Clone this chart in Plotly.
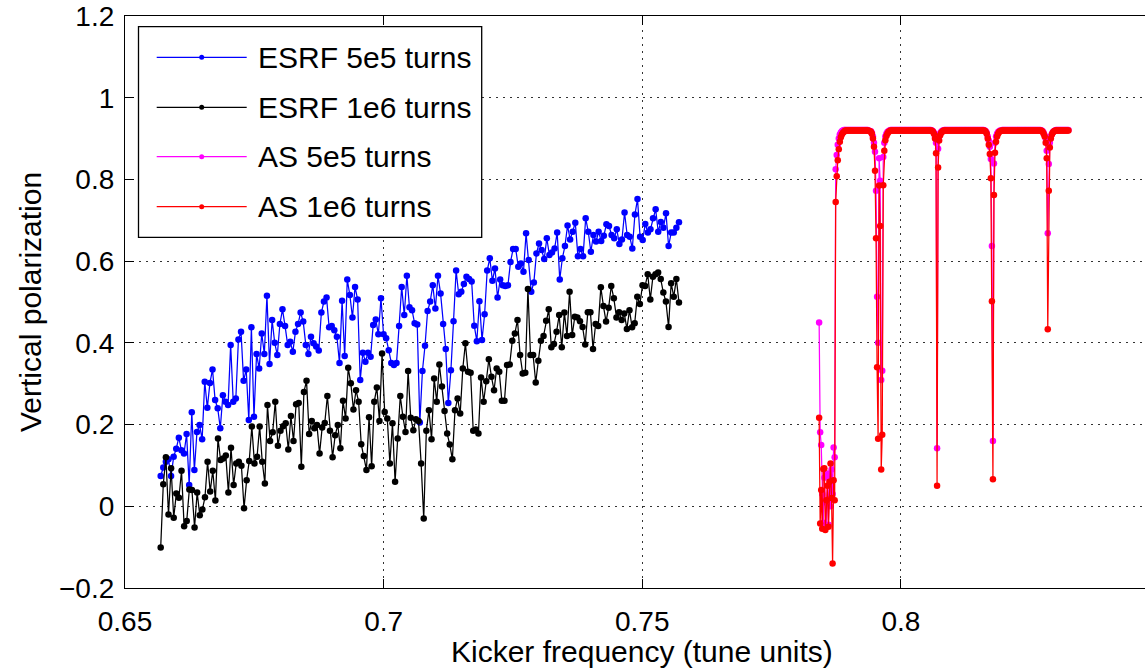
import numpy as np
import plotly.graph_objects as go

# ---------------- data ----------------
esrf_x_start, esrf_x_end = 0.6569, 0.7571
esrf_5e5 = [
    0.074, 0.095, 0.109, 0.115, 0.074, 0.121, 0.141, 0.168, 0.137, 0.129,
    0.177, 0.052, 0.230, 0.089, 0.182, 0.199, 0.164, 0.305, 0.241, 0.302,
    0.335, 0.260, 0.240, 0.191, 0.272, 0.256, 0.248, 0.395, 0.256, 0.264,
    0.408, 0.427, 0.307, 0.335, 0.211, 0.438, 0.219, 0.373, 0.337, 0.423,
    0.373, 0.515, 0.348, 0.456, 0.400, 0.370, 0.446, 0.482, 0.441, 0.395,
    0.403, 0.378, 0.427, 0.446, 0.474, 0.452, 0.395, 0.373, 0.415, 0.399,
    0.391, 0.381, 0.474, 0.501, 0.511, 0.438, 0.441, 0.431, 0.415, 0.351,
    0.503, 0.368, 0.555, 0.517, 0.462, 0.537, 0.506, 0.309, 0.376, 0.354,
    0.376, 0.366, 0.444, 0.457, 0.421, 0.509, 0.421, 0.411, 0.382, 0.351,
    0.346, 0.351, 0.441, 0.537,
    0.468, 0.564, 0.487, 0.480, 0.448, 0.445, 0.205, 0.331, 0.393, 0.478,
    0.501, 0.541, 0.484, 0.564, 0.521, 0.446, 0.385, 0.253, 0.333, 0.453,
    0.577, 0.519, 0.525, 0.544, 0.562, 0.556, 0.550, 0.442, 0.404, 0.502,
    0.407, 0.470, 0.577, 0.607, 0.552, 0.582, 0.511, 0.555, 0.541, 0.539,
    0.541, 0.598, 0.630, 0.630, 0.586, 0.594, 0.574, 0.668, 0.603, 0.525,
    0.548, 0.619, 0.643, 0.627, 0.605, 0.656, 0.615, 0.621, 0.631, 0.670,
    0.555, 0.607, 0.637, 0.687, 0.653, 0.672, 0.694, 0.612, 0.630, 0.612,
    0.705, 0.672, 0.623, 0.664, 0.648, 0.672, 0.649, 0.662, 0.690, 0.686,
    0.664, 0.656, 0.678, 0.642, 0.653, 0.719, 0.664, 0.660, 0.631, 0.714,
    0.752, 0.660, 0.652, 0.691, 0.670, 0.678, 0.705, 0.727, 0.672, 0.696,
    0.682, 0.717, 0.637, 0.670, 0.670, 0.682, 0.695,
]
esrf_1e6 = [
    -0.101, 0.054, 0.120, -0.020, 0.093, -0.028, 0.031, 0.021, 0.087, -0.049,
    -0.036, 0.041, 0.040, -0.052, 0.034, -0.022, -0.008, 0.022, 0.109, 0.036,
    0.087, 0.014, 0.166, 0.113, 0.117, 0.124, 0.034, 0.143, 0.052, 0.105,
    0.109, 0.099, -0.005, 0.064, 0.111, 0.195, 0.105, 0.121, 0.195, 0.109,
    0.056, 0.248, 0.160, 0.181, 0.256, 0.148, 0.185, 0.196, 0.203, 0.139,
    0.221, 0.160, 0.250, 0.253, 0.097, 0.280, 0.307, 0.177, 0.209, 0.191,
    0.199, 0.129, 0.193, 0.204, 0.270, 0.185, 0.120, 0.174, 0.199, 0.142,
    0.258, 0.215, 0.339, 0.301, 0.237, 0.284, 0.256, 0.152, 0.123, 0.089,
    0.218, 0.098, 0.256, 0.291, 0.209, 0.374, 0.231, 0.215, 0.105, 0.203,
    0.060, 0.166, 0.270,
    0.219, 0.182, 0.331, 0.217, 0.186, 0.213, 0.209, 0.105, -0.030, 0.185,
    0.235, 0.164, 0.313, 0.256, 0.347, 0.293, 0.233, 0.178, 0.151, 0.115,
    0.235, 0.264, 0.227, 0.337, 0.399, 0.329, 0.327, 0.185, 0.188, 0.178,
    0.315, 0.256, 0.306, 0.360, 0.317, 0.284, 0.337, 0.329, 0.258, 0.258,
    0.346, 0.347, 0.405, 0.423, 0.456, 0.370, 0.325, 0.327, 0.532, 0.370,
    0.370, 0.303, 0.356, 0.405, 0.417, 0.454, 0.482, 0.389, 0.397, 0.427,
    0.468, 0.389, 0.474, 0.417, 0.525, 0.419, 0.464, 0.462, 0.453, 0.439,
    0.396, 0.475, 0.475, 0.385, 0.446, 0.441, 0.536, 0.490, 0.452, 0.486,
    0.539, 0.509, 0.462, 0.475, 0.456, 0.472, 0.434, 0.480, 0.438, 0.448,
    0.513, 0.495, 0.541, 0.539, 0.568, 0.506, 0.562, 0.568, 0.572, 0.556,
    0.523, 0.501, 0.439, 0.546, 0.513, 0.556, 0.499,
]

as_x_start, as_x_step = 0.7842, 0.0002
as_5e5 = [
    0.450, 0.181, 0.150, 0.030, -0.040, 0.070, 0.010, -0.050, 0.080, -0.045,
    0.070, 0.000, 0.090, 0.030, 0.144, 0.120,
    0.825, 0.860, 0.885, 0.900, 0.910, 0.915, 0.918, 0.920, 0.921, 0.921,
    0.921, 0.921, 0.921, 0.921, 0.921, 0.921, 0.921, 0.921, 0.921, 0.921,
    0.921, 0.921, 0.921, 0.921, 0.921, 0.921, 0.921, 0.921, 0.921, 0.921,
    0.921, 0.921, 0.920, 0.918,
    0.918, 0.914, 0.905, 0.890, 0.868, 0.772, 0.513, 0.400, 0.852, 0.797,
    0.309, 0.332, 0.855, 0.890, 0.905, 0.912, 0.916, 0.918, 0.920,
    0.921, 0.921, 0.921, 0.921, 0.921, 0.921, 0.921, 0.921, 0.921, 0.921,
    0.921, 0.921, 0.921, 0.921, 0.921, 0.921, 0.921, 0.921, 0.921, 0.921,
    0.921, 0.921, 0.921, 0.921, 0.921, 0.921, 0.921, 0.921, 0.921, 0.921,
    0.921, 0.921, 0.921, 0.921, 0.921, 0.921, 0.921, 0.921, 0.921, 0.921,
    0.920, 0.918, 0.914, 0.905, 0.890, 0.142, 0.875, 0.905, 0.913, 0.917,
    0.919, 0.920,
    0.921, 0.921, 0.921, 0.921, 0.921, 0.921, 0.921, 0.921, 0.921, 0.921,
    0.921, 0.921, 0.921, 0.921, 0.921, 0.921, 0.921, 0.921, 0.921, 0.921,
    0.921, 0.921, 0.921, 0.921, 0.921, 0.921, 0.921, 0.921, 0.921, 0.921,
    0.921, 0.921, 0.921, 0.921, 0.921, 0.921, 0.921, 0.921, 0.921,
    0.920, 0.918, 0.914, 0.905, 0.895, 0.880, 0.850, 0.637, 0.160, 0.839,
    0.890, 0.905, 0.912, 0.916, 0.918, 0.920, 0.920,
    0.921, 0.921, 0.921, 0.921, 0.921, 0.921, 0.921, 0.921, 0.921, 0.921,
    0.921, 0.921, 0.921, 0.921, 0.921, 0.921, 0.921, 0.921, 0.921, 0.921,
    0.921, 0.921, 0.921, 0.921, 0.921, 0.921, 0.921, 0.921, 0.921, 0.921,
    0.921, 0.921, 0.921, 0.921, 0.921, 0.921, 0.921, 0.921,
    0.920, 0.918, 0.914, 0.908, 0.900, 0.870, 0.668, 0.838, 0.890, 0.905,
    0.912, 0.916, 0.918, 0.920,
    0.921, 0.921, 0.921, 0.921, 0.921, 0.921, 0.921, 0.921, 0.921, 0.921,
    0.921, 0.921, 0.921,
]
as_1e6 = [
    0.217, -0.042, 0.040, -0.055, 0.091, 0.093, -0.058, 0.015, 0.050, -0.050,
    0.060, 0.105, 0.020, -0.140, 0.064, 0.015,
    0.745, 0.808, 0.847, 0.874, 0.892, 0.903, 0.910, 0.914, 0.917, 0.919,
    0.920, 0.920, 0.920, 0.920, 0.920, 0.920, 0.920, 0.920, 0.920, 0.920,
    0.920, 0.920, 0.920, 0.920, 0.920, 0.920, 0.920, 0.920, 0.920, 0.920,
    0.920, 0.920, 0.919, 0.918,
    0.917, 0.912, 0.900, 0.880, 0.821, 0.656, 0.340, 0.165, 0.785, 0.686,
    0.090, 0.175, 0.786, 0.870, 0.896, 0.906, 0.912, 0.916, 0.918,
    0.920, 0.920, 0.920, 0.920, 0.920, 0.920, 0.920, 0.920, 0.920, 0.920,
    0.920, 0.920, 0.920, 0.920, 0.920, 0.920, 0.920, 0.920, 0.920, 0.920,
    0.920, 0.920, 0.920, 0.920, 0.920, 0.920, 0.920, 0.920, 0.920, 0.920,
    0.920, 0.920, 0.920, 0.920, 0.920, 0.920, 0.920, 0.920, 0.920, 0.920,
    0.919, 0.917, 0.912, 0.900, 0.864, 0.050, 0.829, 0.895, 0.908, 0.914,
    0.917, 0.919,
    0.920, 0.920, 0.920, 0.920, 0.920, 0.920, 0.920, 0.920, 0.920, 0.920,
    0.920, 0.920, 0.920, 0.920, 0.920, 0.920, 0.920, 0.920, 0.920, 0.920,
    0.920, 0.920, 0.920, 0.920, 0.920, 0.920, 0.920, 0.920, 0.920, 0.920,
    0.920, 0.920, 0.920, 0.920, 0.920, 0.920, 0.920, 0.920, 0.920,
    0.919, 0.917, 0.912, 0.900, 0.885, 0.862, 0.803, 0.502, 0.066, 0.762,
    0.865, 0.892, 0.905, 0.912, 0.916, 0.918, 0.919,
    0.920, 0.920, 0.920, 0.920, 0.920, 0.920, 0.920, 0.920, 0.920, 0.920,
    0.920, 0.920, 0.920, 0.920, 0.920, 0.920, 0.920, 0.920, 0.920, 0.920,
    0.920, 0.920, 0.920, 0.920, 0.920, 0.920, 0.920, 0.920, 0.920, 0.920,
    0.920, 0.920, 0.920, 0.920, 0.920, 0.920, 0.920, 0.920,
    0.919, 0.917, 0.912, 0.905, 0.890, 0.852, 0.433, 0.772, 0.878, 0.900,
    0.910, 0.915, 0.918, 0.919,
    0.920, 0.920, 0.920, 0.920, 0.920, 0.920, 0.920, 0.920, 0.920, 0.920,
    0.920, 0.920, 0.920,
]

series_names = ["ESRF 5e5 turns", "ESRF 1e6 turns", "AS 5e5 turns", "AS 1e6 turns"]
series_colors = ["#0000ff", "#000000", "#ff00ff", "#ff0000"]

x_ticks = [0.65, 0.7, 0.75, 0.8]
x_ticklabels = ["0.65", "0.7", "0.75", "0.8"]
y_ticks = [-0.2, 0.0, 0.2, 0.4, 0.6, 0.8, 1.0, 1.2]
y_ticklabels = ["\u22120.2", "0", "0.2", "0.4", "0.6", "0.8", "1", "1.2"]

x_title = "Kicker frequency (tune units)"
y_title = "Vertical polarization"

# ---------------- figure ----------------
esrf_x5 = np.linspace(esrf_x_start, esrf_x_end, len(esrf_5e5))
esrf_x6 = np.linspace(esrf_x_start, esrf_x_end, len(esrf_1e6))
as_x5 = as_x_start + as_x_step * np.arange(len(as_5e5))
as_x6 = as_x_start + as_x_step * np.arange(len(as_1e6))

xs = [esrf_x5, esrf_x6, as_x5, as_x6]
ys = [esrf_5e5, esrf_1e6, as_5e5, as_1e6]

FONT = "Liberation Sans, Arial, Helvetica, sans-serif"

fig = go.Figure()
for name, color, x, y in zip(series_names, series_colors, xs, ys):
    fig.add_trace(go.Scatter(
        x=x, y=y, name=name, mode="lines+markers",
        line=dict(color=color, width=1.25),
        marker=dict(color=color, size=6.5),
    ))

axis_common = dict(
    showline=True, linecolor="black", linewidth=1.3, automargin=False,
    ticks="inside", ticklen=9, tickcolor="black", tickwidth=1,
    showgrid=True, gridcolor="#333333", griddash="2px,5px", gridwidth=1,
    zeroline=False, tickfont=dict(family=FONT, size=28, color="black"),
)
fig.update_xaxes(range=[0.65, 0.8472], tickvals=x_ticks, ticktext=x_ticklabels,
                 mirror="ticks", ticklabelstandoff=8, **axis_common)
fig.update_yaxes(range=[-0.2, 1.2], tickvals=y_ticks, ticktext=y_ticklabels,
                 mirror=False, ticklabelstandoff=4, **axis_common)

# --- legend drawn manually (MATLAB-style long line samples) ---
L, R, T, B = 125.0, 1145.0, 16.0, 588.0
def px(xp):
    return (xp - L) / (R - L)
def py(yp):
    return (B - yp) / (B - T)

shapes = [dict(type="rect", xref="paper", yref="paper",
               x0=px(138.5), x1=px(481.7), y0=py(237.3), y1=py(26.7),
               line=dict(color="black", width=1.3), fillcolor="white", layer="above")]
annotations = []
rows = [57.3, 107.3, 156.7, 206.7]
for name, color, ry in zip(series_names, series_colors, rows):
    shapes.append(dict(type="line", xref="paper", yref="paper",
                       x0=px(156.7), x1=px(246.7), y0=py(ry), y1=py(ry),
                       line=dict(color=color, width=1.2), layer="above"))
    shapes.append(dict(type="circle", xref="paper", yref="paper",
                       xsizemode="pixel", ysizemode="pixel",
                       xanchor=px(201.7), yanchor=py(ry),
                       x0=-2.5, x1=2.5, y0=-2.5, y1=2.5,
                       line=dict(color=color, width=0), fillcolor=color, layer="above"))
    annotations.append(dict(text=name, xref="paper", yref="paper",
                            x=px(256.0), y=py(ry), xanchor="left", yanchor="middle",
                            showarrow=False, font=dict(family=FONT, size=30, color="black")))

annotations.append(dict(text=x_title, xref="x", yref="paper", x=0.75, y=py(651),
                        xanchor="center", yanchor="middle", showarrow=False,
                        font=dict(family=FONT, size=30, color="black")))
annotations.append(dict(text=y_title, xref="paper", yref="paper", x=px(30), y=0.5,
                        xanchor="center", yanchor="middle", textangle=-90, showarrow=False,
                        font=dict(family=FONT, size=30, color="black")))

fig.update_layout(
    width=1145, height=668,
    margin=dict(l=125, r=0, t=16, b=80),
    plot_bgcolor="white", paper_bgcolor="white",
    showlegend=False,
    font=dict(family=FONT, size=28, color="black"),
    shapes=shapes, annotations=annotations,
)

fig.write_html(
    "out.html",
    config={"displayModeBar": False},
    post_script="document.body.style.margin='0';document.body.style.overflow='hidden';",
)
